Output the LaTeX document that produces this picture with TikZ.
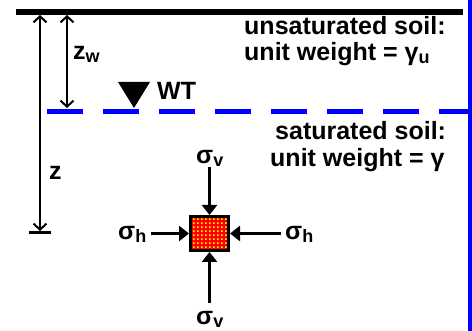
\documentclass[tikz,border=0pt]{standalone}
\usepackage{fontspec}
\setmainfont{Liberation Sans}
\usetikzlibrary{arrows.meta,patterns.meta}
\tikzdeclarepattern{
  name=ydots,
  type=uncolored,
  bounding box={(0pt,0pt) and (4.2pt,4.2pt)},
  tile size={(4.2pt,4.2pt)},
  code={\pgfpathrectangle{\pgfpoint{0pt}{0pt}}{\pgfpoint{2pt}{2pt}}\pgfusepath{fill}}
}
\newcommand\subs[1]{\raisebox{-3pt}{\fontsize{18}{18}\selectfont #1}}
\begin{document}
\begin{tikzpicture}[x=1pt,y=-1pt,
  txt/.style={font=\bfseries\fontsize{25}{27}\selectfont, inner sep=0pt, anchor=base west},
  dim/.style={line width=2.5pt, {Straight Barb[length=6pt,width=13pt,line width=2pt]}-{Straight Barb[length=6pt,width=13pt,line width=2pt]}},
  force/.style={line width=2.5pt, -{Triangle[length=10pt,width=15pt]}},
  water/.style={blue, line width=5pt, dash pattern=on 36pt off 20pt}]
\useasboundingbox (0,0) rectangle (472,331);
% ground surface
\fill (16,9) rectangle (463,15);
% right border
\fill[blue] (467.5,0) rectangle (471.5,331);
% water table
\coordinate (wl) at (47,111.5);
\coordinate (wr) at (471,111.5);
\draw[water] (wl) -- (wr);
\fill (118,82) -- (150,82) -- (134,108) -- cycle;
% dimension arrows
\coordinate (ztop) at (40,15);
\coordinate (zbot) at (40,231);
\draw[dim] (ztop) -- (zbot);
\coordinate (tl) at (29,232.5);
\coordinate (tr) at (51,232.5);
\draw[line width=3pt] (tl) -- (tr);
\coordinate (zwtop) at (67,15);
\coordinate (zwbot) at (67,108);
\draw[dim] (zwtop) -- (zwbot);
% labels
\node[txt] (zw) at (73,60) {z\subs{w}};
\node[txt] (z) at (49,180) {z};
\node[txt] (wt) at (157,100) {WT};
\node[txt] (uns1) at (244,35) {unsaturated soil:};
\node[txt] (uns2) at (244,61) {unit weight = γ\subs{u}};
\node[txt] (sat1) at (275,140) {saturated soil:};
\node[txt] (sat2) at (270,167) {unit weight = γ};
% stress element
\node[draw, line width=3pt, preaction={fill=red}, pattern=ydots, pattern color=yellow,
  minimum width=38pt, minimum height=34pt, inner sep=0pt] (box) at (209.5,233.5) {};
\node[txt] (svt) at (196,164) {σ\subs{v}};
\node[txt] (shl) at (118,240) {σ\subs{h}};
\node[txt] (shr) at (285,240) {σ\subs{h}};
\node[txt] (svb) at (196,325) {σ\subs{v}};
\draw[force] (box.north |- svt.south) -- (box.north);
\draw[force, shorten <=9pt] (box.south |- svb.north) -- (box.south);
\draw[force, shorten <=5pt] (box.west -| shl.east) -- (box.west);
\draw[force, shorten <=4pt] (box.east -| shr.west) -- (box.east);
\end{tikzpicture}
\end{document}
